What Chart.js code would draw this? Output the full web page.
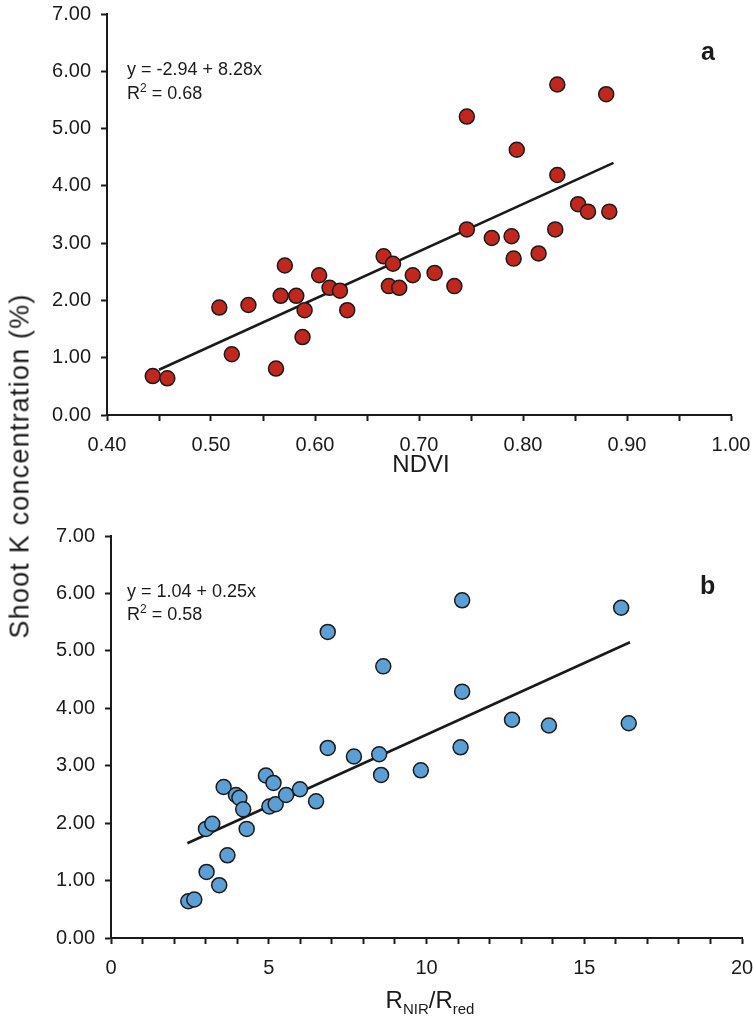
<!DOCTYPE html>
<html>
<head>
<meta charset="utf-8">
<script src="https://cdn.jsdelivr.net/npm/chart.js@4.4.1/dist/chart.umd.min.js"></script>
<style>
    body { margin: 0; background: #fff; }
    #page { position: relative; width: 753px; height: 1020px; font-family: 'Liberation Sans', Arial, sans-serif; color: #1a1a1a; }
    .wrap { position: absolute; left: 0; width: 753px; }
    .txt { position: absolute; white-space: nowrap; line-height: 1; }
    .eq { font-size: 18px; }
    .panel { font-size: 25px; font-weight: bold; }
    .xtitle { font-size: 24px; transform: translateX(-50%); }
    .xtitle sub { font-size: 15px; vertical-align: -6px; }
    #ytitle { font-size: 27px; letter-spacing: 1.2px; transform: translate(-50%, -50%) rotate(-90deg); left: 20px; top: 466px; }
</style>
</head>
<body>
<div id="page">
    <div class="wrap" style="top:0; height:480px;"><canvas id="chartA"></canvas></div>
    <div class="wrap" style="top:480px; height:540px;"><canvas id="chartB"></canvas></div>

    <div class="txt eq" style="left:127px; top:60px;">y = -2.94 + 8.28x</div>
    <div class="txt eq" style="left:127px; top:82px;">R<sup style="font-size:12px">2</sup> = 0.68</div>
    <div class="txt panel" style="left:701px; top:39px;">a</div>

    <div class="txt eq" style="left:127px; top:582px;">y = 1.04 + 0.25x</div>
    <div class="txt eq" style="left:127px; top:603px;">R<sup style="font-size:12px">2</sup> = 0.58</div>
    <div class="txt panel" style="left:700px; top:573px;">b</div>

    <div class="txt xtitle" style="left:421px; top:452px;">NDVI</div>
    <div class="txt xtitle" style="left:430px; top:988px;">R<sub>NIR</sub>/R<sub>red</sub></div>
    <div class="txt" id="ytitle">Shoot K concentration (%)</div>
</div>

<script>
// panel a: NDVI vs shoot K
const ndvi = [0.444, 0.458, 0.508, 0.520, 0.536, 0.5625, 0.571, 0.567, 0.582, 0.590,
              0.588, 0.604, 0.614, 0.624, 0.631, 0.666, 0.675, 0.671, 0.681, 0.694,
              0.715, 0.734, 0.746, 0.746, 0.770, 0.789, 0.791, 0.794, 0.815, 0.831,
              0.833, 0.833, 0.853, 0.8625, 0.883, 0.880];
const kA = [0.68, 0.64, 1.875, 1.06, 1.92, 0.81, 2.61, 2.08, 2.08, 1.83,
            1.36, 2.44, 2.22, 2.17, 1.83, 2.77, 2.64, 2.25, 2.22, 2.44,
            2.48, 2.25, 3.24, 5.21, 3.09, 3.12, 2.73, 4.63, 2.82, 3.24,
            4.19, 5.77, 3.68, 3.55, 3.55, 5.60];
const fitA_x = [0.45, 0.887];
const fitA_y = [0.79, 4.40];

// panel b: R_NIR/R_red vs shoot K
const ratio = [2.45, 2.64, 3.03, 3.43, 3.69, 3.01, 3.21, 3.57, 3.96, 4.07,
               4.19, 4.30, 4.91, 5.15, 5.02, 5.22, 5.55, 5.99, 6.50, 6.87,
               6.87, 7.70, 8.50, 8.56, 8.63, 9.82, 11.13, 11.13, 11.08, 12.71,
               13.88, 16.17, 16.41];
const kB = [0.64, 0.67, 1.15, 0.92, 1.44, 1.90, 1.99, 2.63, 2.49, 2.44,
            2.24, 1.90, 2.83, 2.70, 2.29, 2.33, 2.49, 2.59, 2.38, 5.33,
            3.31, 3.16, 3.20, 2.84, 4.73, 2.92, 5.88, 4.29, 3.32, 3.80,
            3.70, 5.75, 3.74];
const fitB_x = [2.42, 16.45];
const fitB_y = [1.65, 5.15];

const colors = {
    red: '#c1271d',
    blue: '#5b9fd4',
    ink: '#1a1a1a'
};

const pts = (xs, ys) => xs.map((x, i) => ({ x: x, y: ys[i] }));

const axisLook = {
    grid: { drawOnChartArea: false, drawTicks: true, tickLength: 6, tickWidth: 2, tickColor: colors.ink },
    border: { display: true, color: colors.ink, width: 2 }
};

function makeChart(id, opts) {
    return new Chart(document.getElementById(id).getContext('2d'), {
        type: 'scatter',
        data: {
            datasets: [{
                data: pts(opts.xs, opts.ys),
                backgroundColor: opts.color,
                borderColor: colors.ink,
                borderWidth: 1.5,
                pointRadius: 7.5,
                order: 0
            }, {
                data: pts(opts.fitX, opts.fitY),
                showLine: true,
                borderColor: colors.ink,
                borderWidth: 2.5,
                pointRadius: 0,
                order: 1
            }]
        },
        options: {
            responsive: true,
            maintainAspectRatio: false,
            animation: false,
            layout: { padding: opts.padding },
            plugins: { legend: { display: false }, tooltip: { enabled: false } },
            scales: {
                x: {
                    ...axisLook,
                    type: 'linear',
                    min: opts.xMin,
                    max: opts.xMax,
                    afterBuildTicks: s => {
                        const t = [];
                        for (let i = 0; i <= opts.xCount; i++) t.push({ value: opts.xMin + i * opts.xMinor });
                        s.ticks = t;
                    },
                    afterFit: s => {
                        s.height = opts.xHeight;
                        s.paddingLeft = 0;
                        s.paddingRight = 0;
                    },
                    ticks: {
                        autoSkip: false,
                        maxRotation: 0,
                        padding: 12,
                        color: colors.ink,
                        font: { size: 20, family: "'Liberation Sans', Arial, sans-serif" },
                        callback: (v, i) => i % opts.labelEvery === 0 ? opts.fmt(v) : ''
                    }
                },
                y: {
                    ...axisLook,
                    min: 0,
                    max: 7,
                    afterFit: s => {
                        s.width = opts.yWidth;
                        s.paddingTop = 0;
                        s.paddingBottom = 0;
                    },
                    ticks: {
                        stepSize: 1,
                        padding: 10,
                        color: colors.ink,
                        font: { size: 20, family: "'Liberation Sans', Arial, sans-serif" },
                        callback: v => v.toFixed(2)
                    }
                }
            }
        }
    });
}

// chart a
makeChart('chartA', {
    xs: ndvi, ys: kA, fitX: fitA_x, fitY: fitA_y, color: colors.red,
    xMin: 0.4, xMax: 1.0, xMinor: 0.05, xCount: 12, labelEvery: 2,
    fmt: v => v.toFixed(2),
    padding: { top: 14, right: 22, left: 0, bottom: 0 },
    xHeight: 65, yWidth: 107
});

// chart b
makeChart('chartB', {
    xs: ratio, ys: kB, fitX: fitB_x, fitY: fitB_y, color: colors.blue,
    xMin: 0, xMax: 20, xMinor: 1, xCount: 20, labelEvery: 5,
    fmt: v => String(Math.round(v)),
    padding: { top: 56, right: 11, left: 0, bottom: 0 },
    xHeight: 82, yWidth: 111
});
</script>
</body>
</html>
